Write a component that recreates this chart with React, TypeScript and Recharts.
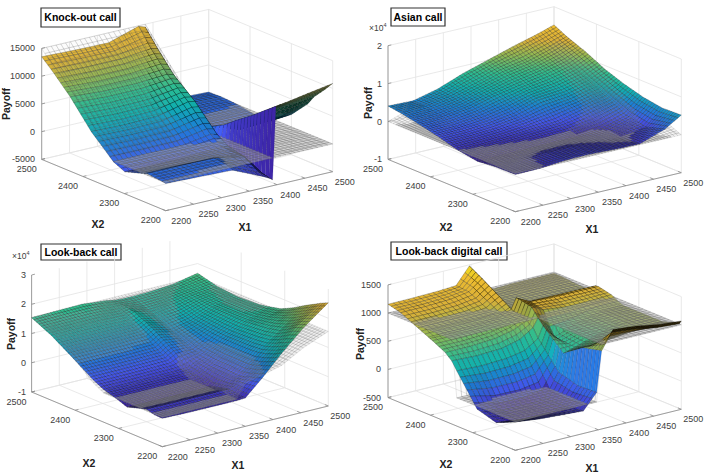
import { ScatterChart, Scatter, XAxis, YAxis, ReferenceLine, ReferenceArea } from 'recharts'

const x1Ticks = [2200, 2250, 2300, 2350, 2400, 2450, 2500]
const x2Ticks = [2200, 2300, 2400, 2500]

// knock-out call
const koX1 = [2200, 2260, 2320, 2374, 2386, 2392, 2398, 2425, 2464, 2500]
const koX2 = [2200, 2218, 2245, 2260, 2299, 2326, 2380, 2431, 2470, 2500]
const koPayoff = [
  [-80, -300, -500, -2900, -3500, -3900, 9170, 9600, 10300, 10900],
  [100, 100, 100, -2000, -3100, -3700, 8100, 8300, 8800, 9300],
  [300, 300, 250, -800, -2000, -3400, 6500, 6500, 6700, 7100],
  [-100, -200, -300, -800, -1500, -3250, 5600, 5000, 4700, 5400],
  [-1040, -1000, -900, -600, -800, -2840, 3500, 2000, 2000, 2300],
  [-100, -100, -100, 800, 500, -1000, 1900, 400, 700, 1000],
  [3700, 3500, 3700, 5000, 4800, 2000, -200, -500, -600, -600],
  [8400, 8000, 8000, 8400, 8000, 3000, 100, 100, 100, 0],
  [11400, 11200, 11200, 11800, 11500, 3000, 350, 350, 300, 200],
  [13500, 13300, 13200, 14900, 14500, 4000, 250, 250, 250, 100],
]
const koWire = [
  [0, 0, 0, 0, 0, 0, 0, 0, 0, 0],
  [0, 0, 0, 0, 0, 0, 0, 0, 0, 0],
  [0, 0, 0, 0, 0, 0, 0, 0, 0, 0],
  [0, 0, 0, 0, 0, 0, 0, 0, 0, 0],
  [0, 0, 0, 0, 0, 0, 0, 0, 0, 0],
  [0, 0, 0, 0, 0, 0, 0, 0, 0, 0],
  [4090, 4090, 4090, 4090, 4090, 0, 0, 0, 0, 0],
  [8730, 8730, 8730, 8730, 8730, 0, 0, 0, 0, 0],
  [12270, 12270, 12270, 12270, 12270, 0, 0, 0, 0, 0],
  [15000, 15000, 15000, 15000, 15000, 0, 0, 0, 0, 0],
]

// asian call (x 10^4)
const asX1 = [2200, 2245, 2290, 2335, 2380, 2425, 2470, 2500]
const asX2 = [2200, 2245, 2290, 2335, 2380, 2425, 2470, 2500]
const asPayoff = [
  [-0.02, -0.01, 0.05, 0.06, 0.03, 0.02, 0.25, 0.52],
  [-0.03, -0.02, 0.03, 0.03, 0, -0.03, 0.1, 0.5],
  [-0.08, -0.07, -0.06, -0.05, -0.05, 0, 0.2, 0.58],
  [0, 0.02, 0.05, 0.1, 0.15, 0.3, 0.45, 0.72],
  [0.14, 0.15, 0.2, 0.3, 0.5, 0.55, 0.7, 0.9],
  [0.26, 0.28, 0.38, 0.55, 0.68, 0.8, 0.95, 1.15],
  [0.36, 0.38, 0.5, 0.68, 0.88, 1.0, 1.2, 1.35],
  [0.41, 0.39, 0.55, 0.8, 1.0, 1.2, 1.38, 1.52],
]
const asWire = [
  [0, 0, 0, 0, 0, 0, 0, 0],
  [0, 0, 0, 0, 0, 0, 0.08, 0.22],
  [0, 0, 0, 0, 0, 0.08, 0.3, 0.45],
  [0, 0, 0, 0, 0.08, 0.3, 0.52, 0.68],
  [0, 0, 0, 0.08, 0.3, 0.52, 0.75, 0.9],
  [0, 0, 0.08, 0.3, 0.52, 0.75, 0.98, 1.12],
  [0, 0.08, 0.3, 0.52, 0.75, 0.98, 1.2, 1.35],
  [0, 0.22, 0.45, 0.68, 0.9, 1.12, 1.35, 1.5],
]

// look-back call (x 10^4)
const lbX1 = [2200, 2245, 2290, 2335, 2350, 2380, 2416, 2455, 2500]
const lbX2 = [2200, 2218, 2236, 2254, 2281, 2308, 2335, 2359, 2410, 2455, 2500]
const lbPayoff = [
  [-0.03, -0.05, -0.05, -0.05, -0.03, 0.5, 1.2, 1.88, 2.53],
  [-0.02, -0.03, -0.03, -0.03, -0.02, 0.42, 1.05, 1.78, 2.4],
  [0.06, 0.05, 0.05, 0.05, 0.04, 0.32, 0.95, 1.6, 2.25],
  [-0.02, -0.03, -0.03, -0.03, -0.03, 0.25, 0.88, 1.45, 2.1],
  [-0.15, -0.15, -0.15, -0.15, -0.12, 0.3, 0.85, 1.35, 1.85],
  [0, 0, 0, 0, 0.02, 0.3, 0.85, 1.3, 1.65],
  [0.12, 0.12, 0.13, 0.14, 0.15, 0.38, 0.85, 1.25, 1.55],
  [0.3, 0.3, 0.31, 0.33, 0.5, 0.5, 0.88, 1.25, 1.48],
  [0.8, 0.8, 0.8, 0.82, 1.0, 0.85, 1.0, 1.28, 1.44],
  [1.22, 1.22, 1.22, 1.2, 1.32, 1.2, 1.25, 1.4, 1.5],
  [1.54, 1.56, 1.58, 1.5, 1.44, 1.42, 1.44, 1.5, 1.67],
]
const lbWire = [
  [0, 0, 0, 0, 0.45, 0.6, 0.78, 1.2, 1.55],
  [0, 0, 0, 0, 0.45, 0.6, 0.78, 1.2, 1.55],
  [0, 0, 0, 0, 0.45, 0.6, 0.78, 1.2, 1.55],
  [0, 0, 0, 0, 0.45, 0.6, 0.78, 1.2, 1.55],
  [0, 0, 0, 0, 0.45, 0.6, 0.78, 1.2, 1.55],
  [0, 0, 0, 0, 0.45, 0.6, 0.78, 1.2, 1.55],
  [0, 0, 0, 0, 0.45, 0.6, 0.78, 1.2, 1.55],
  [0.2, 0.2, 0.2, 0.2, 0.45, 0.6, 0.78, 1.2, 1.55],
  [0.85, 0.85, 0.85, 0.85, 0.85, 0.9, 0.95, 1.2, 1.55],
  [1.28, 1.28, 1.28, 1.28, 1.28, 1.28, 1.28, 1.28, 1.55],
  [1.55, 1.55, 1.55, 1.55, 1.55, 1.55, 1.55, 1.55, 1.55],
]

// look-back digital call
const ldX1 = [2200, 2245, 2290, 2323, 2347, 2356, 2377, 2419, 2461, 2500]
const ldX2 = [2200, 2204, 2245, 2290, 2338, 2350, 2365, 2395, 2401, 2405, 2470, 2500]
const ldPayoff = [
  [3, -50, -80, -100, 170, 885, 1216, 1175, 1100, 1068],
  [-10, -60, -90, -105, 168, 880, 1150, 1110, 1040, 1010],
  [-150, -200, -200, -150, 150, 800, 800, 850, 900, 920],
  [-50, -180, -200, -150, 250, 560, 620, 750, 880, 920],
  [480, 460, 480, 540, 700, 900, 650, 800, 900, 920],
  [620, 600, 620, 700, 850, 1000, 800, 850, 950, 960],
  [720, 720, 750, 820, 925, 1150, 1050, 1000, 1000, 1020],
  [837, 830, 850, 900, 1000, 1200, 1100, 1080, 1075, 1070],
  [855, 850, 870, 915, 1020, 1200, 1080, 1075, 1070, 1068],
  [870, 870, 885, 925, 1040, 950, 930, 930, 930, 930],
  [1100, 1100, 1120, 1170, 1350, 950, 950, 970, 970, 970],
  [1157, 1160, 1170, 1190, 1480, 950, 960, 980, 980, 980],
]
const ldWire = [
  [0, 0, 0, 0, 0, 1000, 1000, 1000, 1000, 1000],
  [0, 0, 0, 0, 0, 1000, 1000, 1000, 1000, 1000],
  [0, 0, 0, 0, 0, 1000, 1000, 1000, 1000, 1000],
  [0, 0, 0, 0, 0, 1000, 1000, 1000, 1000, 1000],
  [0, 0, 0, 0, 0, 1000, 1000, 1000, 1000, 1000],
  [1000, 1000, 1000, 1000, 1000, 1000, 1000, 1000, 1000, 1000],
  [1000, 1000, 1000, 1000, 1000, 1000, 1000, 1000, 1000, 1000],
  [1000, 1000, 1000, 1000, 1000, 1000, 1000, 1000, 1000, 1000],
  [1000, 1000, 1000, 1000, 1000, 1000, 1000, 1000, 1000, 1000],
  [1000, 1000, 1000, 1000, 1000, 1000, 1000, 1000, 1000, 1000],
  [1000, 1000, 1000, 1000, 1000, 1000, 1000, 1000, 1000, 1000],
  [1000, 1000, 1000, 1000, 1000, 1000, 1000, 1000, 1000, 1000],
]

const parula = [
  [62, 38, 168], [71, 91, 249], [30, 135, 225], [18, 185, 185], [51, 200, 150],
  [150, 195, 90], [230, 186, 60], [252, 200, 50], [249, 251, 20],
]

function parulaColor(t: number, shade: number) {
  const p = Math.min(0.9999, Math.max(0, t)) * (parula.length - 1)
  const i = Math.floor(p)
  const f = p - i
  const c = parula[i].map((v, k) => (v + (parula[i + 1][k] - v) * f) * shade)
  return `rgb(${c[0] | 0},${c[1] | 0},${c[2] | 0})`
}

const W = 362
const H = 237

interface PanelConfig {
  title: string
  box: number[]
  front: number[]
  u: number[]
  v: number[]
  zPx: number
  zTicks: number[]
  zLabels: string[]
  exponent?: number[]
  labelEnd: number
  x2Label: number[]
  x1Label: number[]
  zLabel: number[]
  x1: number[]
  x2: number[]
  payoff: number[][]
  wire: number[][]
  mesh: number
  colorMax: number
  slopeAlpha: number
  left: number
  top: number
}

const panels: PanelConfig[] = [
  {
    title: 'Knock-out call', box: [41, 120, 8, 27], front: [165.7, 210.7], u: [167, -39], v: [-124, -51.3], zPx: 111,
    zTicks: [-5000, 0, 5000, 10000, 15000], zLabels: ['-5000', '0', '5000', '10000', '15000'],
    labelEnd: 35, x2Label: [98, 224], x1Label: [245, 227], zLabel: [6, 104],
    x1: koX1, x2: koX2, payoff: koPayoff, wire: koWire, mesh: 36, colorMax: 17500, slopeAlpha: 0.04, left: 0, top: 0,
  },
  {
    title: 'Asian call', box: [38, 92, 8, 26], front: [162.3, 211.7], u: [166, -39], v: [-127.3, -52.3], zPx: 113.7,
    zTicks: [-1, 0, 1, 2], zLabels: ['-1', '0', '1', '2'], exponent: [16, 28],
    labelEnd: 29, x2Label: [93, 227], x1Label: [239, 229], zLabel: [15, 103],
    x1: asX1, x2: asX2, payoff: asPayoff, wire: asWire, mesh: 50, colorMax: 1.7, slopeAlpha: 0.1, left: 353, top: 0,
  },
  {
    title: 'Look-back call', box: [41, 121, 8, 24], front: [162.3, 210.7], u: [166, -40.7], v: [-130.7, -54.7], zPx: 117,
    zTicks: [-1, 0, 1, 2, 3], zLabels: ['-1', '0', '1', '2', '3'], exponent: [12, 20],
    labelEnd: 26, x2Label: [89, 227], x1Label: [238, 229], zLabel: [11, 98],
    x1: lbX1, x2: lbX2, payoff: lbPayoff, wire: lbWire, mesh: 50, colorMax: 3.2, slopeAlpha: 0.2, left: 0, top: 236,
  },
  {
    title: 'Look-back digital call', box: [38, 154, 6, 24], front: [162.3, 214.3], u: [166, -41], v: [-127.3, -52.7], zPx: 112.7,
    zTicks: [-500, 0, 500, 1000, 1500], zLabels: ['-500', '0', '500', '1000', '1500'],
    labelEnd: 28, x2Label: [93, 228], x1Label: [239, 232], zLabel: [7, 108],
    x1: ldX1, x2: ldX2, payoff: ldPayoff, wire: ldWire, mesh: 36, colorMax: 1480, slopeAlpha: 0.04, left: 353, top: 236,
  },
]

function projector(p: PanelConfig) {
  const zMin = p.zTicks[0]
  const zMax = p.zTicks[p.zTicks.length - 1]
  return (x1: number, x2: number, z: number) => {
    const a = (x1 - 2200) / 300
    const b = (x2 - 2200) / 300
    const c = (z - zMin) / (zMax - zMin)
    return [p.front[0] + a * p.u[0] + b * p.v[0], p.front[1] + a * p.u[1] + b * p.v[1] - c * p.zPx]
  }
}

function polyPath(pts: number[][]) {
  return 'M' + pts.map((q) => `${q[0].toFixed(2)} ${q[1].toFixed(2)}`).join('L') + 'Z'
}

function makeCellShape(p: PanelConfig) {
  const project = projector(p)
  const cMin = Math.min(...p.payoff.flat())
  const cMax = p.colorMax
  const zSpan = p.zTicks[p.zTicks.length - 1] - p.zTicks[0]

  return (props: any) => {
    const { cx, cy, payload } = props
    const { i, j, sx, sy } = payload
    const ox = cx - sx
    const oy = cy - sy
    const x0 = p.x1[i]
    const x1 = p.x1[i + 1]
    const y0 = p.x2[j]
    const y1 = p.x2[j + 1]
    const nu = Math.max(1, Math.round(((x1 - x0) / 300) * p.mesh))
    const nv = Math.max(1, Math.round(((y1 - y0) / 300) * p.mesh))
    const at = (g: number[][], s: number, t: number) =>
      (g[j][i] * (1 - s) + g[j][i + 1] * s) * (1 - t) + (g[j + 1][i] * (1 - s) + g[j + 1][i + 1] * s) * t
    const nodes: any[] = []
    for (let b = nv - 1; b >= 0; b--) {
      for (let a = nu - 1; a >= 0; a--) {
        const s0 = a / nu
        const s1 = (a + 1) / nu
        const t0 = b / nv
        const t1 = (b + 1) / nv
        const xa = x0 + (x1 - x0) * s0
        const xb = x0 + (x1 - x0) * s1
        const ya = y0 + (y1 - y0) * t0
        const yb = y0 + (y1 - y0) * t1
        const quad = (g: number[][]) =>
          [
            project(xa, ya, at(g, s0, t0)),
            project(xb, ya, at(g, s1, t0)),
            project(xb, yb, at(g, s1, t1)),
            project(xa, yb, at(g, s0, t1)),
          ].map((q) => [q[0] + ox, q[1] + oy])
        const z00 = at(p.payoff, s0, t0)
        const zu = ((at(p.payoff, s1, t0) - z00) / zSpan) / ((xb - xa) / 300)
        const zv = ((at(p.payoff, s0, t1) - z00) / zSpan) / ((yb - ya) / 300)
        const len = Math.sqrt(0.36 * zu * zu + 0.36 * zv * zv + 1)
        const dot = (0.45 * 0.6 * zu + 0.45 * 0.6 * zv + 0.77) / len
        // steep walls that face the camera stay bright
        const steep = len > 3 && dot > 0.2
        const shade = steep ? 1 : Math.min(0.95, Math.max(0.06, 0.1 + dot))
        const w00 = at(p.wire, s0, t0)
        const wu = Math.abs((at(p.wire, s1, t0) - w00) / zSpan / ((xb - xa) / 300))
        const wv = Math.abs((at(p.wire, s0, t1) - w00) / zSpan / ((yb - ya) / 300))
        const flat = wu + wv < 0.25
        const face = (
          <path
            key={`s${a}-${b}`}
            d={polyPath(quad(p.payoff))}
            fill={parulaColor((z00 - cMin) / (cMax - cMin), shade)}
            stroke={steep ? '#1a1060' : '#000'}
            strokeOpacity={steep ? 0.3 : 0.55}
            strokeWidth={0.4}
          />
        )
        const net = (
          <path
            key={`w${a}-${b}`}
            d={polyPath(quad(p.wire))}
            fill="#a8a8a8"
            fillOpacity={flat ? 0.5 : p.slopeAlpha}
            stroke="#5f5f5f"
            strokeOpacity={flat ? 0.65 : 0.4}
            strokeWidth={0.35}
          />
        )
        if (w00 + at(p.wire, s1, t1) > z00 + at(p.payoff, s1, t1)) {
          nodes.push(face, net)
        } else {
          nodes.push(net, face)
        }
      }
    }
    return <g>{nodes}</g>
  }
}

function textShape(props: any) {
  const { cx, cy, payload } = props
  return (
    <text
      x={cx}
      y={cy}
      textAnchor={payload.anchor}
      dominantBaseline="central"
      fontFamily="Liberation Sans, Arial, sans-serif"
      fontSize={payload.size}
      fontWeight={payload.weight}
      fill={payload.color}
      transform={payload.rotate ? `rotate(-90 ${cx} ${cy})` : undefined}
    >
      {payload.label}
      {payload.sup ? (
        <tspan dy={-3} fontSize={payload.size - 3}>
          {payload.sup}
        </tspan>
      ) : null}
    </text>
  )
}

function Panel({ p }: { p: PanelConfig }) {
  const project = projector(p)
  const zMin = p.zTicks[0]
  const zMax = p.zTicks[p.zTicks.length - 1]

  const seg = (a: number[], b: number[]) => [
    { x: a[0], y: a[1] },
    { x: b[0], y: b[1] },
  ]
  const grid: any[] = []
  x1Ticks.forEach((t) => {
    grid.push(seg(project(t, 2200, zMin), project(t, 2500, zMin)))
    grid.push(seg(project(t, 2500, zMin), project(t, 2500, zMax)))
  })
  x2Ticks.forEach((t) => {
    grid.push(seg(project(2200, t, zMin), project(2500, t, zMin)))
    grid.push(seg(project(2500, t, zMin), project(2500, t, zMax)))
  })
  p.zTicks.forEach((t) => {
    grid.push(seg(project(2200, 2500, t), project(2500, 2500, t)))
    grid.push(seg(project(2500, 2500, t), project(2500, 2200, t)))
  })

  const axes = [
    seg(project(2200, 2200, zMin), project(2500, 2200, zMin)),
    seg(project(2200, 2200, zMin), project(2200, 2500, zMin)),
    seg(project(2200, 2500, zMin), project(2200, 2500, zMax)),
  ]
  x1Ticks.forEach((t) => axes.push(seg(project(t, 2200, zMin), project(t, 2208, zMin))))
  x2Ticks.forEach((t) => axes.push(seg(project(2200, t, zMin), project(2206, t, zMin))))
  p.zTicks.forEach((t) => axes.push(seg(project(2200, 2500, t), project(2206, 2500, t))))

  const cells: any[] = []
  for (let j = p.x2.length - 2; j >= 0; j--) {
    for (let i = p.x1.length - 2; i >= 0; i--) {
      const q = project(p.x1[i], p.x2[j], zMin)
      cells.push({ i, j, sx: q[0], sy: q[1] })
    }
  }

  const tickColor = '#404040'
  const labels: any[] = []
  x1Ticks.forEach((t) => {
    const q = project(t, 2200, zMin)
    const a = (t - 2200) / 300
    labels.push({ sx: q[0] + 15.5 - 3.5 * a, sy: q[1] + 10, label: String(t), anchor: 'middle', size: 9, color: tickColor })
  })
  x2Ticks.forEach((t) => {
    const q = project(2200, t, zMin)
    labels.push({ sx: q[0] - 15, sy: q[1] + 9.5, label: String(t), anchor: 'middle', size: 9, color: tickColor })
  })
  p.zTicks.forEach((t, k) => {
    const q = project(2200, 2500, t)
    labels.push({ sx: p.labelEnd, sy: q[1], label: p.zLabels[k], anchor: 'end', size: 9, color: tickColor })
  })
  if (p.exponent) {
    labels.push({ sx: p.exponent[0], sy: p.exponent[1], label: '×10', sup: '4', anchor: 'start', size: 8.5, color: tickColor })
  }
  labels.push({ sx: p.x2Label[0], sy: p.x2Label[1], label: 'X2', anchor: 'middle', size: 10.5, weight: 700, color: '#222' })
  labels.push({ sx: p.x1Label[0], sy: p.x1Label[1], label: 'X1', anchor: 'middle', size: 10.5, weight: 700, color: '#222' })
  labels.push({ sx: p.zLabel[0], sy: p.zLabel[1], label: 'Payoff', anchor: 'middle', size: 10.5, weight: 700, color: '#222', rotate: true })

  return (
    <div style={{ position: 'absolute', left: p.left, top: p.top, width: W, height: H }}>
      <ScatterChart width={W} height={H} margin={{ top: 0, right: 0, bottom: 0, left: 0 }}>
        <XAxis type="number" dataKey="sx" domain={[0, W]} hide />
        <YAxis type="number" dataKey="sy" domain={[0, H]} reversed hide />
        {grid.map((s, k) => (
          <ReferenceLine key={`g${k}`} segment={s} stroke="#e3e3e3" strokeWidth={0.8} />
        ))}
        {axes.map((s, k) => (
          <ReferenceLine key={`a${k}`} segment={s} stroke="#8a8a8a" strokeWidth={0.8} />
        ))}
        <Scatter data={cells} shape={makeCellShape(p)} isAnimationActive={false} />
        <Scatter data={labels} shape={textShape} isAnimationActive={false} />
        <ReferenceArea
          x1={p.box[0]}
          x2={p.box[1]}
          y1={p.box[2]}
          y2={p.box[3]}
          fill="#fff"
          fillOpacity={1}
          stroke="#333"
          strokeWidth={1.2}
          label={{ value: p.title, position: 'center', fontSize: 10.5, fontWeight: 700, fill: '#000', fontFamily: 'Liberation Sans, Arial, sans-serif' }}
        />
      </ScatterChart>
    </div>
  )
}

export default function App() {
  return (
    <div style={{ position: 'absolute', left: 0, top: 0, width: 706, height: 473, overflow: 'hidden', background: '#fff' }}>
      {panels.map((p) => (
        <Panel key={p.title} p={p} />
      ))}
    </div>
  )
}
